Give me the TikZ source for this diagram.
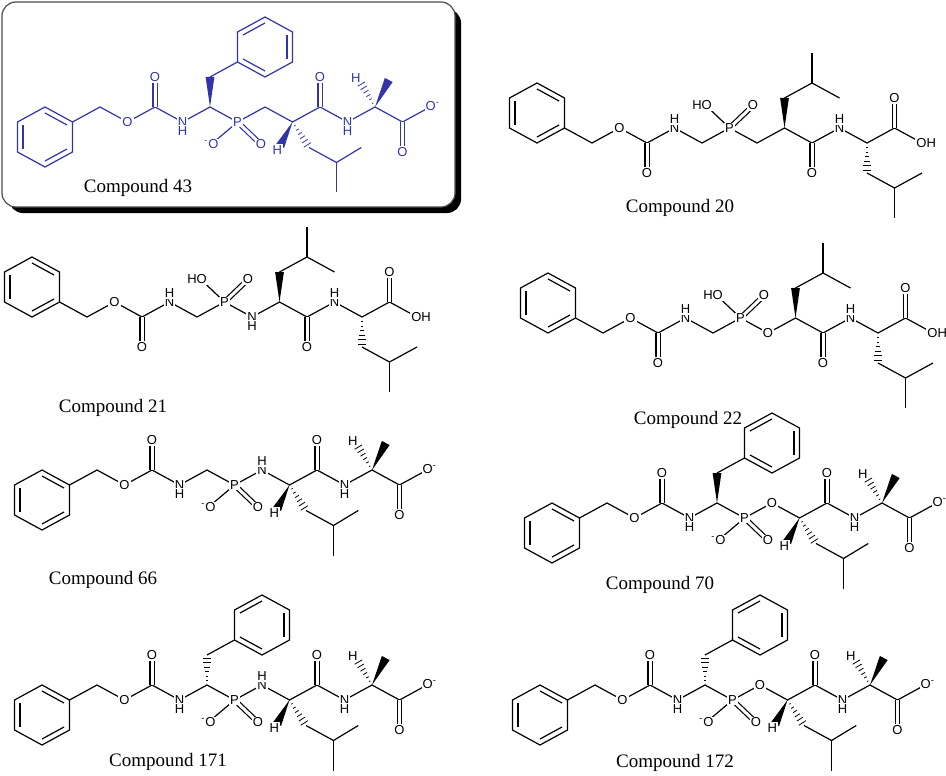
\documentclass[tikz,border=0pt]{standalone}
\usepackage{fontspec}
\setmainfont{Liberation Serif}
\setsansfont{Liberation Sans}
\usetikzlibrary{calc}
\usetikzlibrary{positioning}
\definecolor{molblue}{RGB}{52,52,170}
% hexagon, double bonds on 1-2, 3-4, 5-6
\newcommand\ring[6]{%
  \coordinate (rc) at ($(#1)!0.5!(#4)$);
  \draw (#1)--(#2)--(#3)--(#4)--(#5)--(#6)--cycle;
  \draw ($(#1)!.2!(rc)$)--($(#2)!.2!(rc)$);
  \draw ($(#3)!.2!(rc)$)--($(#4)!.2!(rc)$);
  \draw ($(#5)!.2!(rc)$)--($(#6)!.2!(rc)$);
}
\newcommand\wdg[2]{\fill (#1) -- ($(#2)!2.2pt!90:(#1)$) -- ($(#2)!2.2pt!-90:(#1)$) -- cycle;}
\newcommand\hsh[2]{\foreach \t in {0.15,0.3,...,0.95}
  {\draw[line width=0.4pt] ($(#1)!\t!(#2)!\t*2.4pt!90:(#2)$) -- ($(#1)!\t!(#2)!\t*2.4pt!-90:(#2)$);}}
% Cbz-X-P(O)(O-)-X-Leu-Ala, first atoms
\newcommand\headB{%
  \ring{-2,1}{-1,0}{-1,-2}{-2,-3}{-3,-2}{-3,0}
  \draw (-1,0)--(0,1)--(1,0)--(2,1)--(3,0)--(4,1)--(5,0)--(6,1);
  \draw[double, double distance=1.5pt] (2,1)--(2,3);
  \draw[double, double distance=1.5pt] (5,0)--(5.8,-1.4);
  \draw (5,0)--(4.1,-1.4);
  \node[atom] (o1) at (1,0) {O};
  \node[atom] (o2) at (2,3) {O};
  \node[atom, hdown] (n1) at (3,0) {N};
  \node[atom] (p) at (5,0) {P};
  \node[atom] (o3) at (4.05,-1.5) {\textsuperscript{-}O};
  \node[atom] (o4) at (5.85,-1.5) {O};
}
\newcommand\tailB{%
  \draw (6,1)--(7,0)--(8,1)--(9,0)--(10,1)--(11,0)--(12,1);
  \draw[double, double distance=1.5pt] (8,1)--(8,3);
  \draw[double, double distance=1.5pt] (11,0)--(11,-2);
  \wdg{7,0}{6.55,-1.6}
  \hsh{7,0}{7.6,-1.7}
  \draw (7.6,-1.7)--(8.6,-2.7)--(9.5,-1.7);
  \draw (8.6,-2.7)--(8.6,-4.7);
  \hsh{10,1}{9.45,2.7}
  \wdg{10,1}{10.5,2.8}
  \node[atom] (h1) at (6.45,-1.85) {H};
  \node[atom] (o5) at (8,3) {O};
  \node[atom, hdown] (n2) at (9,0) {N};
  \node[atom] (h2) at (9.3,2.95) {H};
  \node[atom] (o6) at (12.1,1.05) {O\textsuperscript{-}};
  \node[atom] (o7) at (11,-2) {O};
}
% Cbz-NH-CH2-P(O)(OH)-X-Leu-Leu
\newcommand\famA[1]{%
  \ring{-2,0}{-1,1}{-1,3}{-2,4}{-3,3}{-3,1}
  \draw (-1,1)--(0,0)--(1,1)--(2,0)--(3,1)--(4,0)--(5,1)--(6,0)--(7,1)--(8,0)--(9,1)--(10,0)--(11,1)--(12,0);
  \draw[double, double distance=1.5pt] (2,0)--(2,-2);
  \draw[double, double distance=1.5pt] (8,0)--(8,-2);
  \draw[double, double distance=1.5pt] (11,1)--(11,3);
  \draw[double, double distance=1.5pt] (5,1)--(5.8,2.4);
  \draw (5,1)--(4.2,2.4);
  \wdg{7,1}{7,3}
  \draw (7,3)--(8,4)--(9,3);
  \draw (8,4)--(8,6);
  \hsh{10,0}{10,-2}
  \draw (10,-2)--(11,-3)--(12,-2);
  \draw (11,-3)--(11,-5);
  \node[atom] (o1) at (1,1) {O};
  \node[atom] (o2) at (2,-2) {O};
  \node[atom, hup] (n1) at (3,1) {N};
  \node[atom] (p) at (5,1) {P};
  \node[atom] (oh1) at (4.0,2.5) {HO};
  \node[atom] (o3) at (5.85,2.5) {O};
  #1
  \node[atom] (o4) at (8,-2) {O};
  \node[atom, hup] (n2) at (9,1) {N};
  \node[atom] (o5) at (11,3) {O};
  \node[atom] (oh2) at (12.15,0) {OH};
}

\begin{document}
\begin{tikzpicture}[
    x=0.5pt, y=-0.5pt,
    line width=0.6pt, line join=round,
    atom/.style = {
        font=\sffamily\fontsize{6.5}{7}\selectfont,
        fill=white,
        inner sep=0.5pt
      },
    hdown/.style = {label={[atom, label distance=-1.8pt]below:H}},
    hup/.style = {label={[atom, label distance=-1.8pt]above:H}},
    caption/.style = {font=\fontsize{9.5}{11}\selectfont},
    lattice/.style = {x=13.75pt, y=7.5pt},
    ]
    \useasboundingbox (0,0) rectangle (946,775);
    % highlighted compound
    \fill[rounded corners=7pt] (9,9) rectangle (461,213);
    \filldraw[fill=white, draw=black!70, rounded corners=7pt] (2,2) rectangle (455,207);

    \begin{scope}[shift={(100,122)}, lattice, color=molblue]
      \headB
      \wdg{4,1}{4,3}
      \draw (4,3)--(5,4);
      \ring{5,4}{6,3}{7,4}{7,6}{6,7}{5,6}
      \tailB
    \end{scope}
    \node (c43) [caption] at (138,188) {Compound 43};

    \begin{scope}[shift={(592,143)}, lattice]
      \famA{}
    \end{scope}
    \node (c20) [caption] at (680,208) {Compound 20};

    \begin{scope}[shift={(87,317)}, lattice]
      \famA{\node[atom, hdown] (n3) at (6,0) {N};}
    \end{scope}
    \node (c21) [caption] at (113,408) {Compound 21};

    \begin{scope}[shift={(603,333)}, lattice]
      \famA{\node[atom] (o6) at (6,0) {O};}
    \end{scope}
    \node (c22) [caption] at (688,420) {Compound 22};

    \begin{scope}[shift={(97,485)}, lattice]
      \headB
      \tailB
      \node[atom, hup] (n3) at (6,1) {N};
    \end{scope}
    \node (c66) [caption] at (103,580) {Compound 66};

    \begin{scope}[shift={(607,518)}, lattice]
      \headB
      \wdg{4,1}{4,3}
      \draw (4,3)--(5,4);
      \ring{5,4}{6,3}{7,4}{7,6}{6,7}{5,6}
      \tailB
      \node[atom] (o8) at (6,1) {O};
    \end{scope}
    \node (c70) [caption] at (660,585) {Compound 70};

    \begin{scope}[shift={(97,700)}, lattice]
      \headB
      \hsh{4,1}{4,3}
      \draw (4,3)--(5,4);
      \ring{5,4}{6,3}{7,4}{7,6}{6,7}{5,6}
      \tailB
      \node[atom, hup] (n3) at (6,1) {N};
    \end{scope}
    \node (c171) [caption] at (168,762) {Compound 171};

    \begin{scope}[shift={(595,700)}, lattice]
      \headB
      \hsh{4,1}{4,3}
      \draw (4,3)--(5,4);
      \ring{5,4}{6,3}{7,4}{7,6}{6,7}{5,6}
      \tailB
      \node[atom] (o8) at (6,1) {O};
    \end{scope}
    \node (c172) [caption] at (675,763) {Compound 172};
  \end{tikzpicture}
\end{document}
